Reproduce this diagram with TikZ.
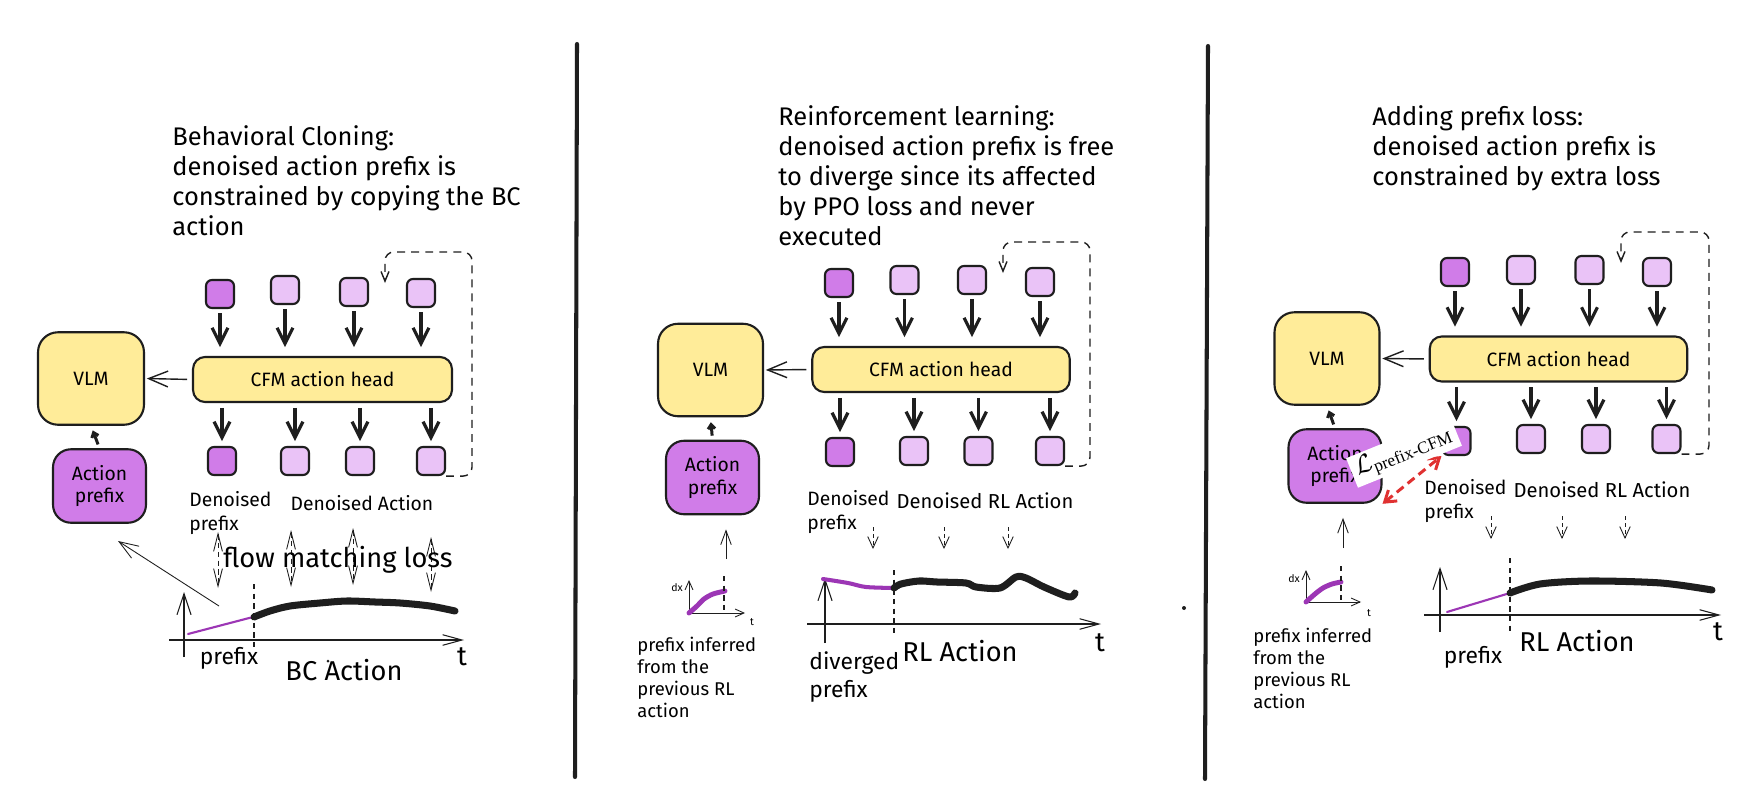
\documentclass[tikz,border=0pt]{standalone}
\usepackage{amsmath}
\usepackage{fontspec}
\setmainfont{Fira Sans}
\newfontfamily\lossfont{Liberation Serif}
\usetikzlibrary{arrows.meta}
\definecolor{ink}{HTML}{1E1E1E}
\definecolor{vlmyellow}{HTML}{FFEC99}
\definecolor{prefixviolet}{HTML}{D07CE8}
\definecolor{tokenviolet}{HTML}{EAC3F7}
\definecolor{curveviolet}{HTML}{9C36B5}
\definecolor{lossred}{HTML}{E03131}
\tikzset{
  card/.style={draw=ink, line width=1.2pt, align=center, inner sep=0pt,
    font=\fontsize{11}{13}\selectfont},
  vlmbox/.style={card, fill=vlmyellow, minimum width=2.1cm, minimum height=1.85cm, rounded corners=0.4cm},
  headbox/.style={card, fill=vlmyellow, minimum width=5.15cm, minimum height=0.9cm, rounded corners=0.24cm},
  prefixbox/.style={card, fill=prefixviolet, minimum width=1.86cm, minimum height=1.47cm, rounded corners=0.36cm},
  tok/.style={draw=ink, line width=1.2pt, fill=tokenviolet, minimum size=0.56cm, rounded corners=0.12cm, inner sep=0pt},
  tokp/.style={tok, fill=prefixviolet},
  fat/.style={draw=ink, line width=1.8pt, -{Straight Barb[length=9pt,width=9pt]}},
  link/.style={draw=ink, line width=0.8pt, -{Straight Barb[length=11pt,width=9pt]}},
  feed/.style={draw=ink, line width=0.5pt, -{Straight Barb[length=8pt,width=6pt]}},
  drop/.style={draw=ink, line width=0.5pt, dash pattern=on 2.5pt off 1.5pt, -{Straight Barb[length=6.5pt,width=6pt]}},
  twoway/.style={draw=ink, line width=0.5pt, dash pattern=on 3pt off 2pt,
    {Straight Barb[length=10pt,width=5pt]}-{Straight Barb[length=10pt,width=5pt]}},
  loopback/.style={draw=ink, line width=0.8pt, dash pattern=on 4.5pt off 3.5pt, rounded corners=5pt,
    -{Straight Barb[length=5.5pt,width=4.5pt]}},
  axis/.style={draw=ink, line width=0.6pt, -{Straight Barb[length=11pt,width=6pt]}},
  yaxis/.style={draw=ink, line width=0.6pt, -{Straight Barb[length=12pt,width=8pt]}},
  smallaxis/.style={draw=ink, line width=0.5pt, -{Straight Barb[length=5pt,width=4.5pt]}},
  guide/.style={draw=ink, line width=0.6pt, dash pattern=on 3pt off 2.5pt},
  pen/.style={draw=ink, line width=4pt, line cap=round, line join=round},
  trace/.style={draw=curveviolet, line cap=round, line join=round},
  divider/.style={draw=ink, line width=2.3pt, line cap=round},
  lossarrow/.style={draw=lossred, line width=1.7pt, dash pattern=on 5pt off 3pt,
    {Straight Barb[length=6pt,width=8pt]}-{Straight Barb[length=6pt,width=8pt]}},
  title/.style={anchor=north west, align=left, inner sep=0pt, font=\fontsize{14.5}{17.1}\selectfont},
  lbl/.style={align=left, inner sep=0pt, font=\fontsize{11}{13.7}\selectfont},
  rllbl/.style={lbl, font=\fontsize{11.5}{14}\selectfont},
  note/.style={anchor=north west, align=left, inner sep=0pt, font=\fontsize{10.5}{12.5}\selectfont},
  big/.style={inner sep=0pt, font=\fontsize{15.5}{18}\selectfont},
  axislbl/.style={align=left, inner sep=0pt, font=\fontsize{13}{16}\selectfont},
  tinylbl/.style={inner sep=0pt, font=\fontsize{6}{7}\selectfont},
}
\begin{document}
\begin{tikzpicture}[x=0.02cm, y=-0.02cm]
  \useasboundingbox[fill=white] (0,0) rectangle (1756,794);

  % panel dividers
  \draw[divider] (577,44) -- (575,777);
  \draw[divider] (1208,46) -- (1205,779);
  \fill[ink] (1184,608) circle (2);

  %%% behavioral cloning
  \node[title] (head1) at (172,125) {Behavioral Cloning:\\denoised action prefix is\\constrained by copying the BC\\action};
  \node[vlmbox, minimum width=2.12cm] (vlm1) at (91,378.5) {VLM};
  \node[headbox, minimum width=5.18cm] (cfm1) at (322.5,379.5) {CFM action head};
  \node[prefixbox] (pre1) at (99.5,486) {Action\\prefix};
  \foreach \x/\y/\s [count=\i] in {220/294/tokp, 285/290/tok, 354/292/tok, 421/293/tok}
    \node[style=\s] (t1\i) at (\x,\y) {};
  \foreach \x/\y/\s [count=\i] in {222/461/tokp, 295/461/tok, 360/461/tok, 431/461/tok}
    \node[style=\s] (b1\i) at (\x,\y) {};
  \foreach \i in {1,...,4} {
    \draw[fat, shorten <=2.3pt, shorten >=5pt] (t1\i.south) -- (t1\i.south |- cfm1.north);
    \draw[fat, shorten <=2.8pt, shorten >=2.8pt] (b1\i.north |- cfm1.south) -- (b1\i.north);
  }
  \draw[link, shorten <=2.8pt, shorten >=1pt] (cfm1.west) -- (vlm1.east);
  \draw[draw=ink, line width=1.7pt, -{Straight Barb[length=2.5pt,width=4pt]}, shorten <=2.3pt, shorten >=2.8pt] (pre1.north) -- (vlm1.south);
  \coordinate (lc1) at (472,252);
  \coordinate (lp1) at (385,283);
  \draw[loopback] (b14.south east) -| (lc1) -| (lp1);
  \node[lbl, anchor=north west] (dp1) at (189,491) {Denoised\\prefix};
  \node[lbl] (da1) at (362,503) {Denoised Action};
  \foreach \x/\a/\b [count=\i] in {218/532/588, 291/530/587, 353/528/585, 431/537/592} {
    \coordinate (fu1\i) at (\x,\a);
    \coordinate (fd1\i) at (\x,\b);
    \draw[twoway] (fu1\i) -- (fd1\i);
  }
  \node[big] (flow1) at (338,560) {flow matching loss};
  \coordinate (src1) at (219,606);
  \coordinate (tip1) at (118,541);
  \draw[draw=ink, line width=0.5pt, -{Straight Barb[length=11pt,width=8pt]}] (src1) -- (tip1);
  % BC action plot
  \draw[axis] (169,640) -- (464,640);
  \draw[yaxis] (184,657) -- (184,592);
  \draw[trace, line width=1.2pt] (188,634) -- (253,617);
  \draw[guide] (254,584) -- (254,650);
  \draw[pen] plot[smooth] coordinates {(254,617) (270,611) (290,606) (320,603) (347,601) (375,602) (400,603) (430,606) (455,611)};
  \node[axislbl] (px1) at (229,658) {prefix};
  \node[big] (bc1) at (344,670) {BC Action};
  \fill[ink] (328,661) circle (1.5);
  \node[big] (tt1) at (462,657) {t};

  %%% reinforcement learning
  \node[title] (head2) at (778,105) {Reinforcement learning:\\denoised action prefix is free\\to diverge since its affected\\by PPO loss and never\\executed};
  \node[vlmbox] (vlm2) at (710.5,370) {VLM};
  \node[headbox] (cfm2) at (941,369.5) {CFM action head};
  \node[prefixbox] (pre2) at (712.5,477.5) {Action\\prefix};
  \foreach \x/\y/\s [count=\i] in {839/283/tokp, 904.5/280/tok, 972/280/tok, 1040/282/tok}
    \node[style=\s] (t2\i) at (\x,\y) {};
  \foreach \x/\y/\s [count=\i] in {840/452/tokp, 914/451/tok, 978.5/451/tok, 1050/451/tok}
    \node[style=\s] (b2\i) at (\x,\y) {};
  \foreach \i in {1,...,4} {
    \draw[fat, shorten <=2.3pt, shorten >=5pt] (t2\i.south) -- (t2\i.south |- cfm2.north);
    \draw[fat, shorten <=2.8pt, shorten >=2.8pt] (b2\i.north |- cfm2.south) -- (b2\i.north);
  }
  \draw[link, shorten <=2.8pt, shorten >=1pt] (cfm2.west) -- (vlm2.east);
  \draw[draw=ink, line width=1.7pt, -{Straight Barb[length=2.5pt,width=4pt]}, shorten <=2.3pt, shorten >=2.8pt] (pre2.north) -- (vlm2.south);
  \coordinate (lc2) at (1090,242);
  \coordinate (lp2) at (1003,273);
  \draw[loopback] (b24.south east) -| (lc2) -| (lp2);
  \node[lbl, anchor=north west] (dp2) at (807,490) {Denoised\\prefix};
  \node[rllbl] (da2) at (985,501) {Denoised RL Action};
  \foreach \x [count=\i] in {873, 944, 1008} {
    \coordinate (du2\i) at (\x,527);
    \coordinate (dd2\i) at (\x,549);
    \draw[drop] (du2\i) -- (dd2\i);
  }
  \coordinate (src2) at (726,559);
  \draw[feed, shorten >=8pt] (src2) -- (src2 |- pre2.south);
  % previous action plot
  \draw[smallaxis] (689,613) -- (689,580);
  \draw[smallaxis] (689,613) -- (745,613);
  \node[tinylbl] (dx2) at (677,588) {dx};
  \node[tinylbl] (ts2) at (752,622) {t};
  \draw[trace, line width=2.8pt] plot[smooth] coordinates {(689,613) (697,606) (704,599) (713,594) (725,591)};
  \draw[guide] (724,576) -- (724,613);
  \node[note] (inf2) at (637,637) {prefix inferred\\from the\\previous RL\\action};
  % RL action plot
  \draw[axis] (807,624) -- (1101,624);
  \draw[yaxis] (825,643) -- (825,578);
  \draw[trace, line width=2.3pt] plot[smooth] coordinates {(823,579) (848,583) (866,587) (894,588)};
  \draw[guide] (894,570) -- (894,635);
  \draw[pen] plot[smooth, tension=0.5] coordinates {(894,588) (901,584) (919,581) (937,582) (966,583) (976,587) (1000,588) (1016,577) (1026,578) (1044,587) (1069,597) (1075,593)};
  \node[big] (tt2) at (1100,643) {t};
  \node[big] (rl2) at (960,651) {RL Action};
  \node[axislbl, anchor=north west] (dv2) at (809,651) {diverged\\prefix};

  %%% prefix loss
  \node[title] (head3) at (1372,105) {Adding prefix loss:\\denoised action prefix is\\constrained by extra loss};
  \node[vlmbox] (vlm3) at (1327,358.5) {VLM};
  \node[headbox] (cfm3) at (1558.5,359) {CFM action head};
  \node[prefixbox] (pre3) at (1335,466) {Action\\prefix};
  \foreach \x/\y/\s [count=\i] in {1455/272/tokp, 1521/270/tok, 1589.5/270/tok, 1657/272/tok}
    \node[style=\s] (t3\i) at (\x,\y) {};
  \foreach \x/\y/\s [count=\i] in {1456.5/441/tokp, 1531/439/tok, 1596/439/tok, 1666.5/439/tok}
    \node[style=\s] (b3\i) at (\x,\y) {};
  \foreach \i in {1,...,4} {
    \draw[fat, shorten <=2.3pt, shorten >=5pt] (t3\i.south) -- (t3\i.south |- cfm3.north);
    \draw[fat, shorten <=2.8pt, shorten >=2.8pt] (b3\i.north |- cfm3.south) -- (b3\i.north);
  }
  \draw[link, shorten <=2.8pt, shorten >=1pt] (cfm3.west) -- (vlm3.east);
  \draw[draw=ink, line width=1.7pt, -{Straight Barb[length=2.5pt,width=4pt]}, shorten <=2.3pt, shorten >=2.8pt] (pre3.north) -- (vlm3.south);
  \coordinate (lc3) at (1709,232);
  \coordinate (lp3) at (1621,263);
  \draw[loopback] (b34.south east) -| (lc3) -| (lp3);
  \draw[lossarrow] (pre3.south east) -- (b31.south west);
  \node[fill=white, rotate=22, inner xsep=3pt, inner ysep=2pt, font=\fontsize{14}{16}\selectfont] (loss3) at (1404,452)
    {$\mathcal{L}_{\text{\lossfont prefix-CFM}}$};
  \node[lbl, anchor=north west] (dp3) at (1424,479) {Denoised\\prefix};
  \node[rllbl] (da3) at (1602,490) {Denoised RL Action};
  \foreach \x [count=\i] in {1491, 1562, 1625} {
    \coordinate (du3\i) at (\x,516);
    \coordinate (dd3\i) at (\x,539);
    \draw[drop] (du3\i) -- (dd3\i);
  }
  \coordinate (src3) at (1343,548);
  \draw[feed, shorten >=8pt] (src3) -- (src3 |- pre3.south);
  % previous action plot
  \draw[smallaxis] (1306,602) -- (1306,570);
  \draw[smallaxis] (1306,602) -- (1361,602);
  \node[tinylbl] (dx3) at (1294,579) {dx};
  \node[tinylbl] (ts3) at (1369,613) {t};
  \draw[trace, line width=2.8pt] plot[smooth] coordinates {(1306,602) (1315,594) (1323,588) (1332,584) (1341,582)};
  \draw[guide] (1341,566) -- (1341,602);
  \node[note] (inf3) at (1253,628) {prefix inferred\\from the\\previous RL\\action};
  % RL action plot
  \draw[axis] (1424,615) -- (1721,615);
  \draw[yaxis] (1440,632) -- (1440,567);
  \draw[trace, line width=1.2pt] (1447,612) -- (1510,593);
  \draw[guide] (1510,558) -- (1510,632);
  \draw[pen] plot[smooth] coordinates {(1510,593) (1540,584) (1590,581) (1661,583) (1712,590)};
  \node[big] (tt3) at (1718,632) {t};
  \node[big] (rl3) at (1577,641) {RL Action};
  \node[axislbl] (px3) at (1473,657) {prefix};
\end{tikzpicture}
\end{document}
